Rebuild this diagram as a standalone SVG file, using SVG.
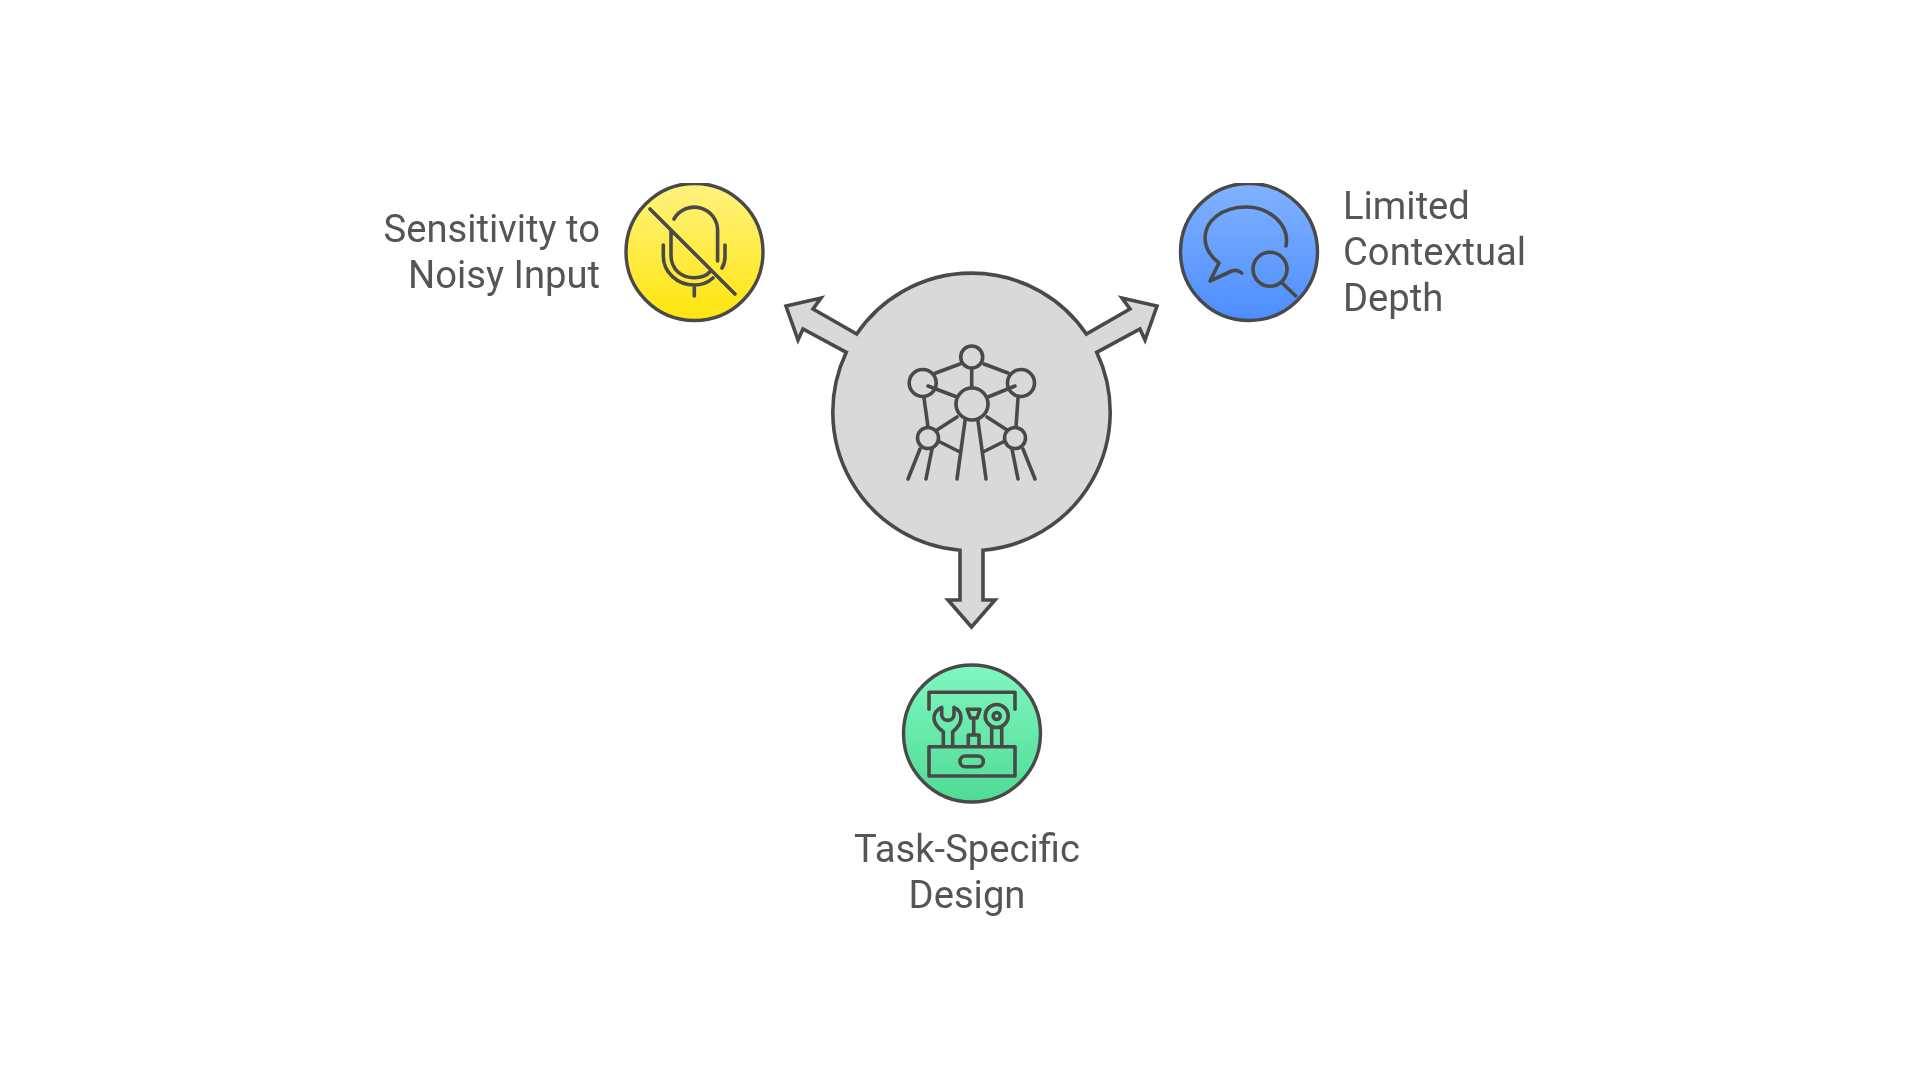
<svg xmlns="http://www.w3.org/2000/svg" width="1920" height="1080" viewBox="0 0 1920 1080">
<style>
.o{fill:none;stroke:#4a4a4a;stroke-width:3.6;stroke-linecap:round;stroke-linejoin:round}
.c{stroke:#4a4a4a;stroke-width:3.4}
.t{font-family:Roboto,"Liberation Sans",sans-serif;font-size:38.2px;fill:#555}
.e{text-anchor:end}.m{text-anchor:middle}
</style>
<defs>
<linearGradient id="y" x1="0" y1="0" x2="0" y2="1"><stop offset="0" stop-color="#FFF27F"/><stop offset="1" stop-color="#FFE50D"/></linearGradient>
<linearGradient id="b" x1="0" y1="0" x2="0" y2="1"><stop offset="0" stop-color="#80B2FF"/><stop offset="1" stop-color="#4D8DFF"/></linearGradient>
<linearGradient id="g" x1="0" y1="0" x2="0" y2="1"><stop offset="0" stop-color="#80F7BF"/><stop offset="1" stop-color="#4FDB95"/></linearGradient>
<filter id="soft" x="0" y="0" width="100%" height="100%"><feGaussianBlur stdDeviation="0.5"/></filter>
</defs>
<rect width="1920" height="1080" fill="#fff"/>
<g filter="url(#soft)">
<g id="connectors">
<path fill="#d9d9d9" stroke="#4a4a4a" stroke-width="3.6" stroke-linejoin="miter" d="M856.7,334 L813,309 L821,298 L786,306 L798,340 L803,329 L846.3,352.3 A138.7,138.7 0 0 0 960,550.2 V600 H948 L971.5,627 L995,600 H983 V550.2 A138.7,138.7 0 0 0 1096.7,352.3 L1140,329 L1145,340 L1157,306 L1122,298 L1130,309 L1086.3,334 A138.7,138.7 0 0 0 856.7,334 Z"/>
</g>
<g id="hub" class="o">
<circle cx="971.7" cy="357" r="11"/><circle cx="922.7" cy="383" r="13.5"/><circle cx="1021" cy="383" r="13.5"/><circle cx="972" cy="404" r="16"/><circle cx="928" cy="438" r="10.5"/><circle cx="1015" cy="438" r="10.5"/>
<path d="M935,373.3 L960,364 M984,364 L1008,373 M971.7,369 V387 M928,386 L957,397 M1015,386 L988,397 M924,398 L928,427 M1018,398 L1016,427 M957,417 L937,430 M987,417 L1007,430 M940,442 L960,452 M1003,442 L983,452 M965,421 L957,479 M978,421 L986,479 M920,449 L908,479 M932,449 L926,479 M1023,449 L1035,479 M1012,449 L1018,479"/>
</g>
<g id="node-noisy">
<circle class="c" cx="694.5" cy="252" r="68.5" fill="url(#y)"/>
<path class="o" d="M650,209 L735,294 M674,219 A23.3,23.3 0 0 1 717.6,231 V261 M671,231 V255 C671,270 682,277.7 694.3,277.7 C701,277.7 707,275.5 710,271.7 M663.3,245 V256 C663.3,273 678,285 694.3,285 C702,285 708,282.5 713,278 M725,245 V257 Q725,263 722,268 M694.3,285 V296"/>
<text class="t e" x="600" y="242">Sensitivity to</text>
<text class="t e" x="600" y="288">Noisy Input</text>
</g>
<g id="node-context">
<circle class="c" cx="1249" cy="252" r="68.5" fill="url(#b)"/>
<path class="o" d="M1286,246 C1290,225 1270,207 1246,207 C1222,207 1205,221 1205,238 C1205,248 1210,256 1219,263 L1210,281 L1231.7,271 Q1237,269 1241.7,273"/>
<circle class="o" cx="1270" cy="269.3" r="17"/>
<path class="o" d="M1282,282.7 L1295.7,296"/>
<text class="t" x="1343" y="219">Limited</text>
<text class="t" x="1343" y="265">Contextual</text>
<text class="t" x="1343" y="311">Depth</text>
</g>
<g id="node-task">
<circle class="c" cx="972" cy="733.5" r="68.5" fill="url(#g)"/>
<path class="o" d="M929,709.3 V692.3 H1015 V709.3 M929,746.7 H1015 V776 H929 Z M943.3,745 V731.7 C938,728 934,723.5 934,718 C934,713 937,709.5 941.7,707.3 V715 A6.2,6.2 0 0 0 954,715 V707.3 C959,709.5 961,713 961,718 C961,723.5 957.5,728 952.7,731.7 V745 M967.3,709.3 H980 L977,718 H970.5 Z M973.7,718 V735 M968.3,746.7 V735 H979 V746.7 M991.7,745 V728.3 M1001.7,745 V728.3"/>
<rect class="o" x="960" y="756" width="23.3" height="10.7" rx="5.3"/>
<circle class="o" cx="996.7" cy="716" r="11.5"/><circle class="o" cx="996.7" cy="716" r="3.5"/>
<text class="t m" x="967" y="862">Task-Specific</text>
<text class="t m" x="967" y="908">Design</text>
</g>
</g>
</svg>
